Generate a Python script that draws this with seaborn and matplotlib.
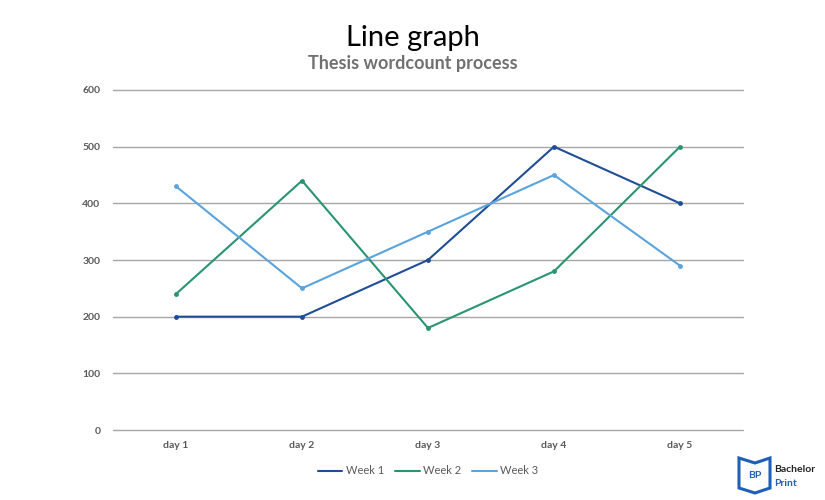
import matplotlib
matplotlib.use("Agg")
import matplotlib.pyplot as plt
import seaborn as sns
import pandas as pd
from matplotlib.patches import Polygon

days = ["day 1", "day 2", "day 3", "day 4", "day 5"]
week1 = [200, 200, 300, 500, 400]
week2 = [240, 440, 180, 280, 500]
week3 = [430, 250, 350, 450, 290]
series_names = ["Week 1", "Week 2", "Week 3"]
colors = ["#1f4e96", "#2a9471", "#5ba3dc"]

df = pd.DataFrame({"day": days * 3,
                   "value": week1 + week2 + week3,
                   "series": [s for s in series_names for _ in days]})

sns.set_theme(style="white")
plt.rcParams['font.family'] = ['Lato', 'DejaVu Sans']

fig = plt.figure(figsize=(8.25, 5), dpi=100)
ax = fig.add_axes([113/825, 70/500, 630/825, 340/500])

sns.lineplot(data=df, x="day", y="value", hue="series", palette=colors,
             marker="o", markersize=3.5, markeredgewidth=0, linewidth=1.5,
             sort=False, ax=ax, legend=True)

ax.set_xlim(-0.5, 4.5)
ax.set_ylim(0, 600)
ax.set_yticks(range(0, 601, 100))
ax.yaxis.grid(True, color="#a6a6a6", linewidth=1)
for gl in ax.yaxis.get_gridlines():
    gl.set_clip_on(False)
ax.set_axisbelow(True)
for s in ax.spines.values():
    s.set_visible(False)
ax.set_xlabel("")
ax.set_ylabel("")
ax.tick_params(axis="both", length=0, labelsize=7.5, labelcolor="#595959")
ax.tick_params(axis="x", pad=8)
ax.tick_params(axis="y", pad=9)
for lab in ax.get_xticklabels() + ax.get_yticklabels():
    lab.set_fontweight("bold")

leg = ax.legend(loc="upper center", bbox_to_anchor=(0.5, -0.075), ncol=3,
                frameon=False, fontsize=8, handlelength=2.2, columnspacing=1.0,
                handletextpad=0.3)
for t in leg.get_texts():
    t.set_color("#595959")
for h in leg.legend_handles:
    h.set_marker("")

fig.text(0.5, 1 - 38/500, "Line graph", ha="center", va="center",
         fontsize=21, color="#000000")
fig.text(0.5, 1 - 63/500, "Thesis wordcount process", ha="center", va="center",
         fontsize=13, color="#707070", fontweight="bold")

# logo
fig.text(774/825, 1 - 470/500, "Bachelor", ha="left", va="center", fontsize=7.5,
         color="#222222", fontweight="bold")
fig.text(774/825, 1 - 483/500, "Print", ha="left", va="center", fontsize=7.5,
         color="#1f5fb5", fontweight="bold")
logo = Polygon([(739/825, 1-458/500), (755/825, 1-463/500), (770/825, 1-458/500),
                (770/825, 1-488/500), (755/825, 1-493/500), (739/825, 1-488/500)],
               closed=True, transform=fig.transFigure, facecolor="none",
               edgecolor="#1f5fb5", linewidth=2.2)
fig.patches.append(logo)
fig.text(755/825, 1 - 476/500, "BP", ha="center", va="center", fontsize=7.5,
         color="#1f5fb5", fontweight="bold")

fig.savefig("out.png", dpi=100, facecolor="white")
